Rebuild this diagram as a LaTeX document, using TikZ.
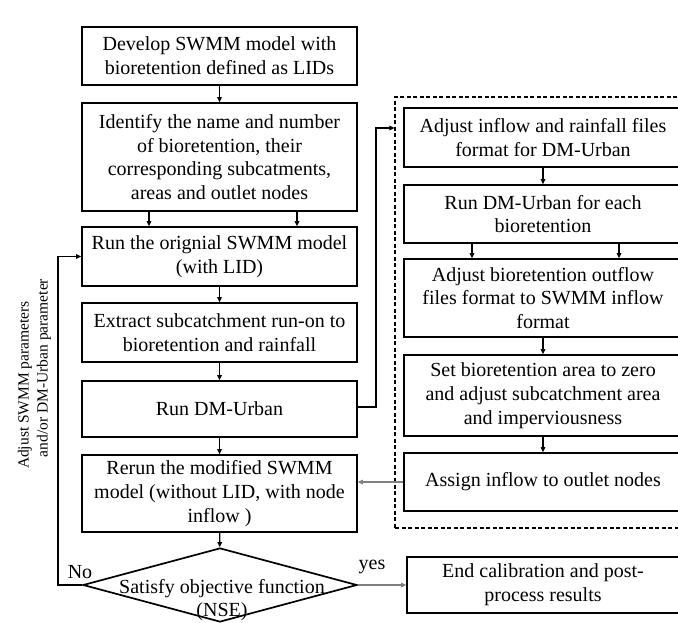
\documentclass[tikz,border=0pt]{standalone}
\usepackage{fontspec}
\setmainfont{Liberation Serif}
\usetikzlibrary{shapes.geometric,arrows.meta}
\definecolor{lgray}{RGB}{128,128,128}
\begin{document}
\begin{tikzpicture}[x=1pt,y=-1pt,
  box/.style={draw, line width=1.7pt, align=center, inner sep=0pt,
    font=\fontsize{20}{23.7}\selectfont},
  lbox/.style={box, minimum width=275pt},
  rbox/.style={box, minimum width=278pt},
  arr/.style={line width=1.1pt, -{Triangle[length=5pt,width=4.5pt]}},
  garr/.style={arr, draw=lgray, fill=lgray},
  lbl/.style={font=\fontsize{20}{23.7}\selectfont, inner sep=0pt},
  side/.style={rotate=90, inner sep=0pt, font=\fontsize{15.5}{19}\selectfont}
]
\clip (0,0) rectangle (678,623);
\fill[white] (0,0) rectangle (678,623);

% left column
\node[lbox, minimum height=58pt] (b1) at (219.5,56) {Develop SWMM model with\\bioretention defined as LIDs};
\node[lbox, minimum height=108pt] (b2) at (219.5,157) {Identify the name and number\\of bioretention, their\\corresponding subcatments,\\areas and outlet nodes};
\node[lbox, minimum height=59pt] (b3) at (219.5,256.5) {Run the orignial SWMM model\\(with LID)};
\node[lbox, minimum height=59pt] (b4) at (219.5,332.5) {Extract subcatchment run-on to\\bioretention and rainfall};
\node[lbox, minimum height=56pt] (b5) at (219.5,409) {Run DM-Urban};
\node[lbox, minimum height=77pt] (b6) at (219.5,493.5) {Rerun the modified SWMM\\model (without LID, with node\\inflow )};
\node[diamond, draw, line width=1.7pt, minimum width=274pt, minimum height=74pt, inner sep=0pt] (d) at (220,585) {};
\node[lbl, align=center] (dt) at (222,600) {Satisfy objective function\\(NSE)};

% right column
\node[draw, dashed, line width=1.1pt, dash pattern=on 4pt off 2.5pt, minimum width=296pt, minimum height=431pt, inner sep=0pt] (dash) at (543,312.5) {};
\node[rbox, minimum height=59pt] (r1) at (543,137.5) {Adjust inflow and rainfall files\\format for DM-Urban};
\node[rbox, minimum height=58pt] (r2) at (543,214) {Run DM-Urban for each\\bioretention};
\node[rbox, minimum height=78pt] (r3) at (543,298) {Adjust bioretention outflow\\files format to SWMM inflow\\format};
\node[rbox, minimum height=81pt] (r4) at (543,395.5) {Set bioretention area to zero\\and adjust subcatchment area\\and imperviousness};
\node[rbox, minimum height=58pt] (r5) at (543,482) {Assign inflow to outlet nodes};
\node[box, minimum width=272pt, minimum height=56pt] (end) at (543,585) {End calibration and post-\\process results};

% labels
\node[lbl] (no) at (80,572) {No};
\node[lbl] (yes) at (372,567) {yes};
\node[side] (s1) at (25,385) {Adjust SWMM parameters};
\node[side] (s2) at (44,368) {and/or DM-Urban parameter};

% connectors left
\draw[arr] (b1) -- (b2);
\draw[arr] (b2.south -| 149,0) -- (b3.north -| 149,0);
\draw[arr] (b2.south -| 297,0) -- (b3.north -| 297,0);
\draw[arr] (b3) -- (b4);
\draw[arr] (b4) -- (b5);
\draw[arr] (b5) -- (b6);
\draw[arr] (b6) -- (d);
\coordinate (loop) at (58,585);
\draw[arr] (d.west) -- (loop) |- (b3.west);
\coordinate (jump) at (376,128);
\draw[arr] ([yshift=2pt]b5.east) -| (jump) -- (jump -| dash.west);

% connectors right
\draw[arr] (r1) -- (r2);
\draw[arr] (r2.south -| 472,0) -- (r3.north -| 472,0);
\draw[arr] (r2.south -| 619,0) -- (r3.north -| 619,0);
\draw[arr] (r3) -- (r4);
\draw[arr] (r4) -- (r5);
\draw[garr] (r5.west) -- (r5.west -| b6.east);
\draw[garr] (d.east) -- (end.west);
\end{tikzpicture}
\end{document}
